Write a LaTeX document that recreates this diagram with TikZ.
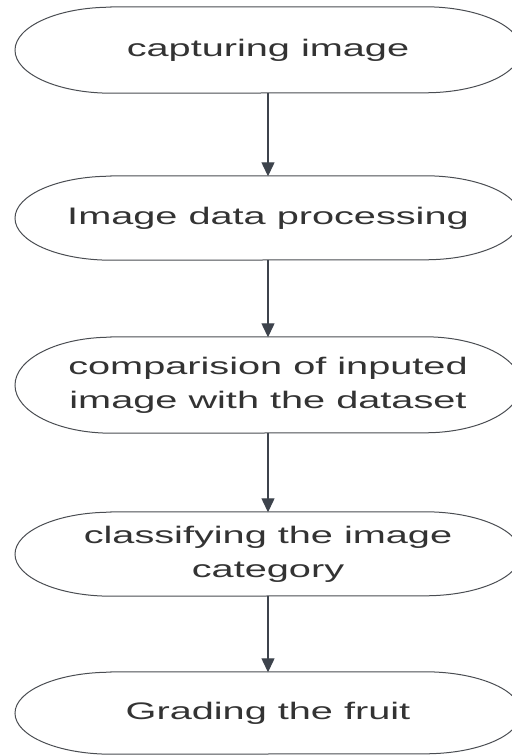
\documentclass[tikz,border=0pt]{standalone}
\usepackage{fontspec}
\newfontfamily\lucid[FakeStretch=1.66]{Liberation Sans}
\usetikzlibrary{arrows.meta}
\definecolor{edgegray}{HTML}{3D434C}
\definecolor{outlinegray}{HTML}{4A4D52}
\definecolor{textgray}{HTML}{333333}
\tikzset{
  stepnode/.style={shape=rectangle, inner sep=0pt,
    align=center, text=textgray, font=\lucid\fontsize{24}{34}\selectfont},
  outline/.style={draw=outlinegray, line width=1bp},
  flow/.style={draw=edgegray, line width=1.3bp, -{Triangle[width=13bp,length=14bp]}, shorten >=-0.5bp},
}
\newcommand\termdraw[2]{% name, half height
  \draw[outline] ([xshift=-157bp]#1.north) -- ([xshift=157bp]#1.north)
    arc[start angle=90, end angle=-90, x radius=96bp, y radius=#2]
    -- ([xshift=-157bp]#1.south)
    arc[start angle=270, end angle=90, x radius=96bp, y radius=#2] -- cycle;}
\begin{document}
\begin{tikzpicture}[x=1bp,y=1bp]
\useasboundingbox (0,0) rectangle (512,755);
\clip (0,0) rectangle (512,755);
% y values: 755 - pixel row
\node[stepnode, minimum height=86bp] (n1) at (268,705) {capturing image};
\node[stepnode, minimum height=84bp] (n2) at (268,537) {Image data processing};
\node[stepnode, minimum height=96bp] (n3) at (268,370) {comparision of inputed\\image with the dataset};
\node[stepnode, minimum height=84bp] (n4) at (268,201) {classifying the image\\category};
\node[stepnode, minimum height=82bp] (n5) at (268,42) {Grading the fruit};
\termdraw{n1}{43bp}
\termdraw{n2}{42bp}
\termdraw{n3}{48bp}
\termdraw{n4}{42bp}
\termdraw{n5}{41bp}
\draw[flow] (n1.south) -- (n2.north);
\draw[flow] (n2.south) -- (n3.north);
\draw[flow] (n3.south) -- (n4.north);
\draw[flow] (n4.south) -- (n5.north);
\end{tikzpicture}
\end{document}
